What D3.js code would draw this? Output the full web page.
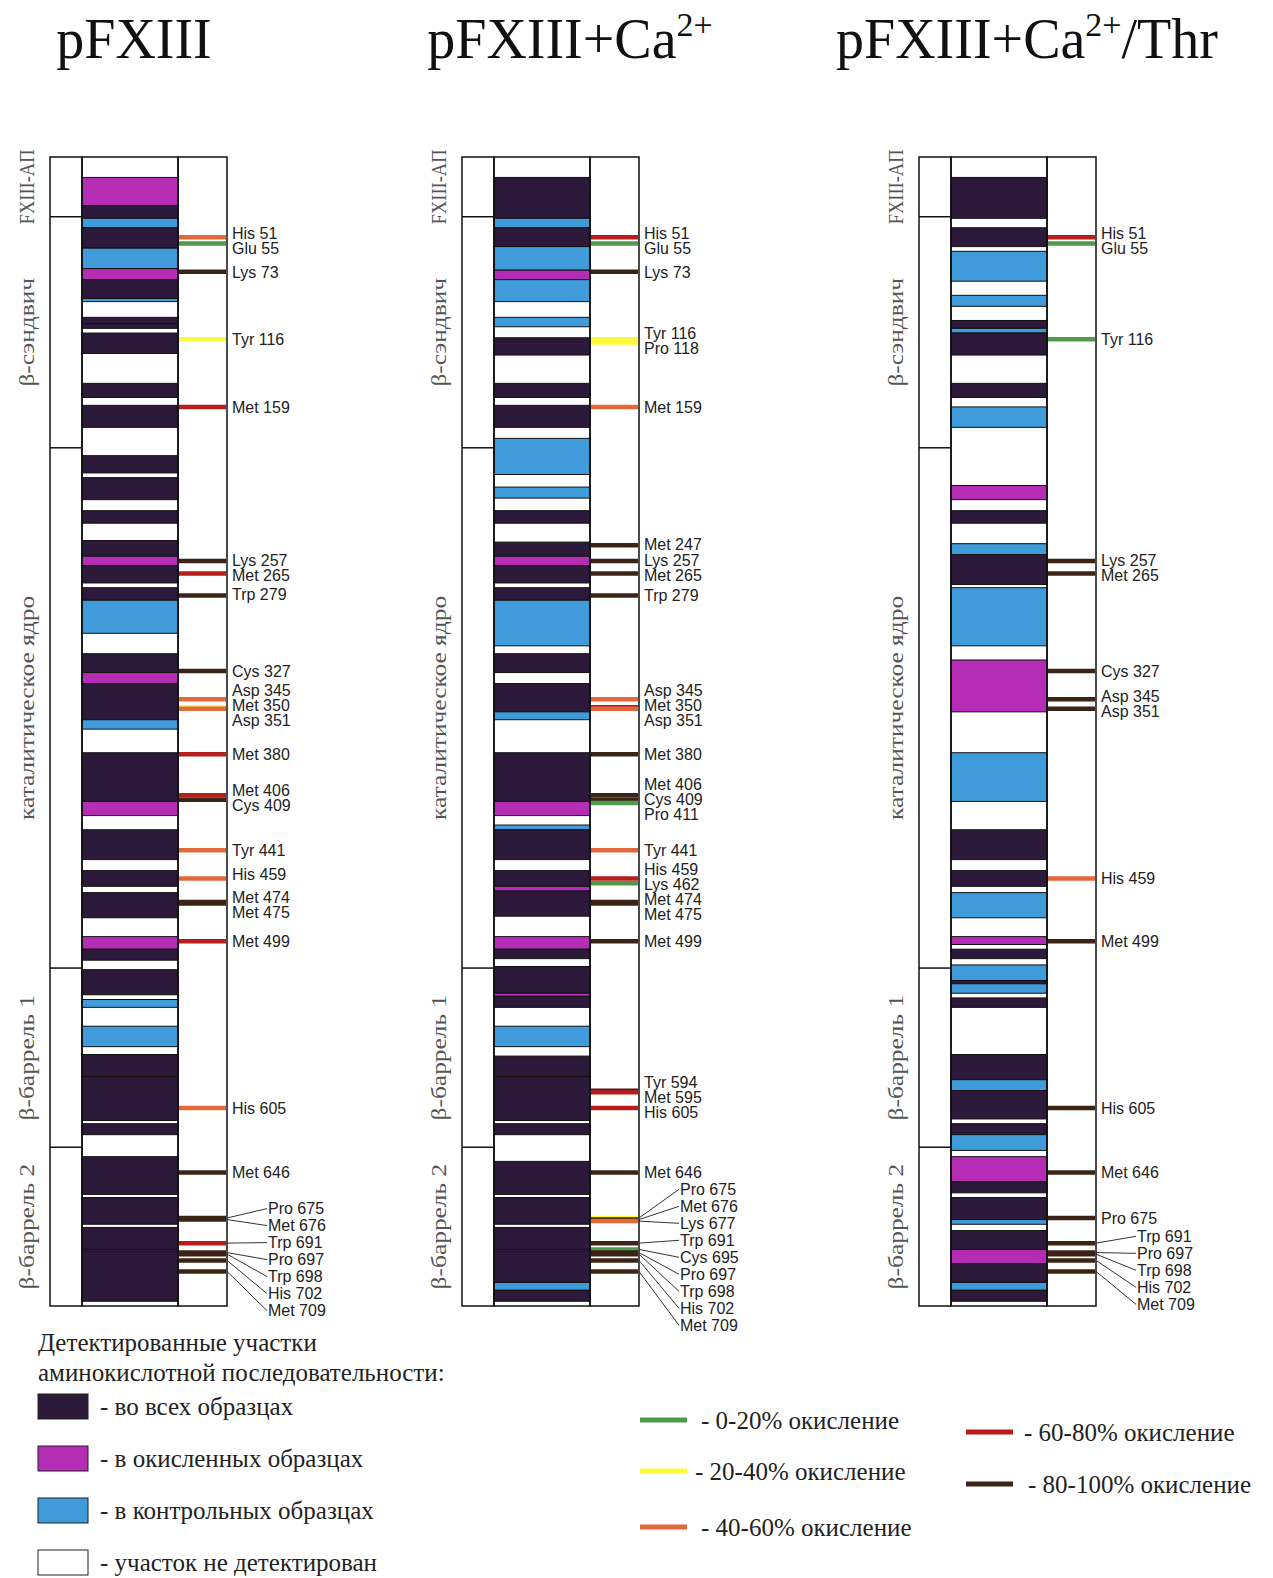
<!DOCTYPE html>
<html>
<head>
<meta charset="utf-8">
<script src="https://cdn.jsdelivr.net/npm/d3@7"></script>
<style>
  body { margin: 0; background: #fff; }
  svg text { font-family: "Liberation Sans", Arial, sans-serif; }
  .serif { font-family: "Liberation Serif", "Times New Roman", serif !important; }
</style>
</head>
<body>
<div id="main"></div>
<script>
// ---- data ----
const titles = ["pFXIII", "pFXIII+Ca", "pFXIII+Ca"];
const titleSup = ["", "2+", "2+"];
const titleTail = ["", "", "/Thr"];

const domainNames = ["FXIII-АП", "β-сэндвич", "каталитическое ядро", "β-баррель 1", "β-баррель 2"];
const domainBounds = [0, 38, 185, 516, 630, 731];

const categories = ["all", "ox", "ctrl", "none"];
const categoryLabels = ["- во всех образцах", "- в окисленных образцах", "- в контрольных образцах", "- участок не детектирован"];
const levels = ["- 0-20% окисление", "- 20-40% окисление", "- 40-60% окисление", "- 60-80% окисление", "- 80-100% окисление"];

// segments: [start residue, end residue, category]
const segments1 = [
  [13,31,"ox"],[31,39,"all"],[39,45,"ctrl"],[45,58,"all"],[58,71,"ctrl"],[71,78,"ox"],[78,90,"all"],[90,92,"ctrl"],
  [102,106,"all"],[106,109,"all"],[112,125,"all"],[144,153,"all"],[158,172,"all"],[190,201,"all"],[204,218,"all"],
  [225,233,"all"],[244,254,"all"],[254,260,"ox"],[260,271,"all"],[274,282,"all"],[282,303,"ctrl"],[316,328,"all"],
  [328,335,"ox"],[335,358,"all"],[358,364,"ctrl"],[379,410,"all"],[410,419,"ox"],[428,447,"all"],[454,464,"all"],
  [468,484,"all"],[496,504,"ox"],[504,511,"all"],[517,533,"all"],[536,541,"ctrl"],[553,566,"ctrl"],[571,585,"all"],
  [585,613,"all"],[615,622,"all"],[636,660,"all"],[662,679,"all"],[681,695,"all"],[695,696,"ox"],[696,728,"all"]
];
const segments2 = [
  [13,39,"all"],[39,45,"ctrl"],[45,57,"all"],[57,72,"ctrl"],[72,78,"ox"],[78,92,"ctrl"],[102,108,"ctrl"],[115,126,"all"],
  [144,153,"all"],[158,172,"all"],[179,202,"ctrl"],[210,217,"ctrl"],[225,233,"all"],[245,254,"all"],[254,260,"ox"],
  [260,271,"all"],[274,282,"all"],[282,311,"ctrl"],[316,328,"all"],[335,353,"all"],[353,358,"ctrl"],[379,410,"all"],
  [410,419,"ox"],[425,428,"ctrl"],[428,447,"all"],[454,464,"all"],[464,467,"ox"],[467,483,"all"],[496,504,"ox"],
  [504,510,"all"],[515,532,"all"],[532,534,"ox"],[534,541,"all"],[553,566,"ctrl"],[572,585,"all"],[585,613,"all"],
  [615,622,"all"],[639,660,"all"],[662,679,"all"],[681,695,"all"],[695,696,"ox"],[696,716,"all"],[716,721,"ctrl"],[721,728,"all"]
];
const segments3 = [
  [13,39,"all"],[45,57,"all"],[60,79,"ctrl"],[88,95,"ctrl"],[104,109,"all"],[109,112,"ctrl"],[112,126,"all"],
  [144,153,"all"],[159,172,"ctrl"],[209,218,"ox"],[225,233,"all"],[246,253,"ctrl"],[253,272,"all"],[274,311,"ctrl"],
  [320,353,"ox"],[379,410,"ctrl"],[428,447,"all"],[454,464,"all"],[468,484,"ctrl"],[496,501,"ox"],[504,510,"all"],
  [514,524,"ctrl"],[524,526,"all"],[526,532,"ctrl"],[535,541,"all"],[571,587,"all"],[587,594,"ctrl"],[594,612,"all"],
  [615,622,"all"],[622,632,"ctrl"],[636,652,"ox"],[652,659,"all"],[662,676,"all"],[676,679,"ctrl"],[683,695,"all"],
  [695,704,"ox"],[704,716,"all"],[716,721,"ctrl"],[721,728,"all"]
];

// markers: [residue, label, oxidation level index]
const markers1 = [
  [51,"His 51",2],[55,"Glu 55",0],[73,"Lys 73",4],[116,"Tyr 116",1],[159,"Met 159",3],[257,"Lys 257",4],
  [265,"Met 265",3],[279,"Trp 279",4],[327,"Cys 327",4],[345,"Asp 345",2],[350,"Met 350",1],[351,"Asp 351",2],
  [380,"Met 380",3],[406,"Met 406",3],[409,"Cys 409",4],[441,"Tyr 441",2],[459,"His 459",2],[474,"Met 474",4],
  [475,"Met 475",4],[499,"Met 499",3],[605,"His 605",2],[646,"Met 646",4],[675,"Pro 675",4],[676,"Met 676",4],
  [691,"Trp 691",3],[697,"Pro 697",4],[698,"Trp 698",4],[702,"His 702",4],[709,"Met 709",4]
];
const markers2 = [
  [51,"His 51",3],[55,"Glu 55",0],[73,"Lys 73",4],[116,"Tyr 116",1],[118,"Pro 118",1],[159,"Met 159",2],
  [247,"Met 247",4],[257,"Lys 257",4],[265,"Met 265",4],[279,"Trp 279",4],[345,"Asp 345",2],[350,"Met 350",3],
  [351,"Asp 351",2],[380,"Met 380",4],[406,"Met 406",4],[409,"Cys 409",4],[411,"Pro 411",0],[441,"Tyr 441",2],
  [459,"His 459",3],[462,"Lys 462",0],[474,"Met 474",4],[475,"Met 475",4],[499,"Met 499",4],[594,"Tyr 594",4],
  [595,"Met 595",3],[605,"His 605",3],[646,"Met 646",4],[675,"Pro 675",1],[676,"Met 676",4],[677,"Lys 677",2],
  [691,"Trp 691",4],[695,"Cys 695",0],[697,"Pro 697",4],[698,"Trp 698",4],[702,"His 702",4],[709,"Met 709",4]
];
const markers3 = [
  [51,"His 51",3],[55,"Glu 55",0],[116,"Tyr 116",0],[257,"Lys 257",4],[265,"Met 265",4],[327,"Cys 327",4],
  [345,"Asp 345",4],[351,"Asp 351",4],[459,"His 459",2],[499,"Met 499",4],[605,"His 605",4],[646,"Met 646",4],
  [675,"Pro 675",4],[691,"Trp 691",4],[697,"Pro 697",4],[698,"Trp 698",4],[702,"His 702",4],[709,"Met 709",4]
];

// ---- look ----
const W = 1273, H = 1578;
const catColor = d3.scaleOrdinal().domain(categories).range(["#2d1a3b", "#b52db5", "#3f9bd9", "#ffffff"]);
const levelColor = d3.scaleOrdinal().domain(d3.range(5)).range(["#4f9a4c", "#fbfb3c", "#e3693a", "#b81c1c", "#3b2416"]);

const panelX = [50, 462, 919];
const titleCx = [134, 570, 1027];
const domW = 32, seqW = 96, mkW = 49;
const y = d3.scaleLinear().domain([0, 731]).range([157, 1306]);

const svg = d3.select("#main").append("svg").attr("width", W).attr("height", H);

function layoutLabels(markers) {
  const groups = [];
  markers.forEach(m => {
    const g = groups[groups.length - 1];
    if (g && m.res - g[g.length - 1].res <= 15) g.push(m); else groups.push([m]);
  });
  groups.forEach(g => {
    const d = g.map(m => y(m.res));
    const lead = g.length >= 5;
    let pos;
    if (lead) {
      const c = d3.mean(d) + 14;
      pos = g.map((m, i) => c + (i - (g.length - 1) / 2) * 17);
    } else {
      pos = [];
      d.forEach((v, i) => pos.push(i ? Math.max(v, pos[i - 1] + 15) : v));
      const shift = d3.mean(d) - d3.mean(pos);
      pos = pos.map(p => p + shift);
    }
    g.forEach((m, i) => { m.ly = pos[i]; m.lead = lead; });
  });
}

function drawPanel(i, segs, marks) {
  const x0 = panelX[i];
  const g = svg.append("g").attr("transform", "translate(" + x0 + ",0)");
  const sx = domW, mx = domW + seqW, right = domW + seqW + mkW;

  // title
  const t = svg.append("text").attr("class", "serif")
    .attr("x", titleCx[i]).attr("y", 58)
    .attr("text-anchor", "middle").attr("font-size", 56).attr("fill", "#111");
  t.append("tspan").text(titles[i]);
  if (titleSup[i]) t.append("tspan").attr("font-size", 34).attr("dy", -22).text(titleSup[i]);
  if (titleTail[i]) t.append("tspan").attr("dy", 22).text(titleTail[i]);

  // sequence segments
  g.selectAll("rect.seg").data(segs).enter().append("rect")
    .attr("class", "seg")
    .attr("x", sx).attr("width", seqW)
    .attr("y", d => y(d[0])).attr("height", d => y(d[1]) - y(d[0]))
    .attr("fill", d => catColor(d[2]))
    .attr("stroke", "#111").attr("stroke-width", 1);

  // domain column
  g.append("rect").attr("x", 0).attr("y", y(0)).attr("width", domW).attr("height", y(731) - y(0))
    .attr("fill", "none").attr("stroke", "#111").attr("stroke-width", 1.5);
  g.selectAll("line.dom").data(domainBounds.slice(1, -1)).enter().append("line")
    .attr("x1", 0).attr("x2", domW).attr("y1", d => y(d)).attr("y2", d => y(d))
    .attr("stroke", "#111").attr("stroke-width", 1.5);
  const dl = g.selectAll("text.dom").data(domainNames).enter().append("text")
    .attr("class", "serif")
    .attr("transform", (d, k) => "translate(-23," + y((domainBounds[k] + domainBounds[k + 1]) / 2) + ") rotate(-90)")
    .attr("text-anchor", "middle").attr("dy", "0.35em")
    .attr("font-size", 20).attr("fill", "#555").text(d => d);
  // the source lettering is stretched along the column
  dl.each(function(d, k) {
    const len = this.getComputedTextLength();
    const room = (y(domainBounds[k + 1]) - y(domainBounds[k])) * 1.25;
    d3.select(this).attr("textLength", Math.min(len * 1.27, room)).attr("lengthAdjust", "spacingAndGlyphs");
  });

  // sequence and marker column frames
  g.append("rect").attr("x", sx).attr("y", y(0)).attr("width", seqW).attr("height", y(731) - y(0))
    .attr("fill", "none").attr("stroke", "#111").attr("stroke-width", 1.5);
  g.append("rect").attr("x", mx).attr("y", y(0)).attr("width", mkW).attr("height", y(731) - y(0))
    .attr("fill", "none").attr("stroke", "#111").attr("stroke-width", 1.5);

  // markers
  const ms = marks.map(m => ({res: m[0], label: m[1], lvl: m[2]})).sort((a, b) => a.res - b.res);
  layoutLabels(ms);
  g.selectAll("line.mk").data(ms).enter().append("line")
    .attr("x1", mx + 1).attr("x2", right - 1)
    .attr("y1", d => y(d.res)).attr("y2", d => y(d.res))
    .attr("stroke", d => levelColor(d.lvl)).attr("stroke-width", 4.5);
  g.selectAll("line.lead").data(ms.filter(d => d.lead)).enter().append("line")
    .attr("x1", right).attr("y1", d => y(d.res))
    .attr("x2", right + 40).attr("y2", d => d.ly)
    .attr("stroke", "#333").attr("stroke-width", 1);
  g.selectAll("text.mk").data(ms).enter().append("text")
    .attr("x", d => right + (d.lead ? 41 : 5)).attr("y", d => d.ly).attr("dy", "0.36em")
    .attr("font-size", 16).attr("fill", "#222").text(d => d.label);
}

drawPanel(0, segments1, markers1);
drawPanel(1, segments2, markers2);
drawPanel(2, segments3, markers3);

// ---- legend: detected regions ----
const leg = svg.append("g");
leg.append("text").attr("class", "serif").attr("x", 38).attr("y", 1351).attr("font-size", 25).attr("fill", "#222")
  .text("Детектированные участки");
leg.append("text").attr("class", "serif").attr("x", 38).attr("y", 1381).attr("font-size", 25).attr("fill", "#222")
  .text("аминокислотной последовательности:");
const catY = d3.scalePoint().domain(categories).range([1406, 1562]);
leg.selectAll("rect.sw").data(categories).enter().append("rect")
  .attr("x", 38).attr("y", d => catY(d) - 12).attr("width", 50).attr("height", 25)
  .attr("fill", d => catColor(d)).attr("stroke", "#222").attr("stroke-width", 1);
leg.selectAll("text.sw").data(categories).enter().append("text")
  .attr("class", "serif").attr("x", 100).attr("y", d => catY(d)).attr("dy", "0.35em")
  .attr("font-size", 25).attr("fill", "#222").text((d, k) => categoryLabels[k]);

// ---- legend: oxidation levels ----
const lvlPos = [[640, 1420, 701], [640, 1471, 695], [640, 1527, 701], [966, 1432, 1024], [966, 1484, 1028]];
leg.selectAll("line.lv").data(levels).enter().append("line")
  .attr("x1", (d, k) => lvlPos[k][0]).attr("x2", (d, k) => lvlPos[k][0] + 47)
  .attr("y1", (d, k) => lvlPos[k][1]).attr("y2", (d, k) => lvlPos[k][1])
  .attr("stroke", (d, k) => levelColor(k)).attr("stroke-width", 5);
leg.selectAll("text.lv").data(levels).enter().append("text")
  .attr("class", "serif").attr("x", (d, k) => lvlPos[k][2]).attr("y", (d, k) => lvlPos[k][1]).attr("dy", "0.35em")
  .attr("font-size", 25).attr("fill", "#222").text(d => d);
</script>
</body>
</html>
